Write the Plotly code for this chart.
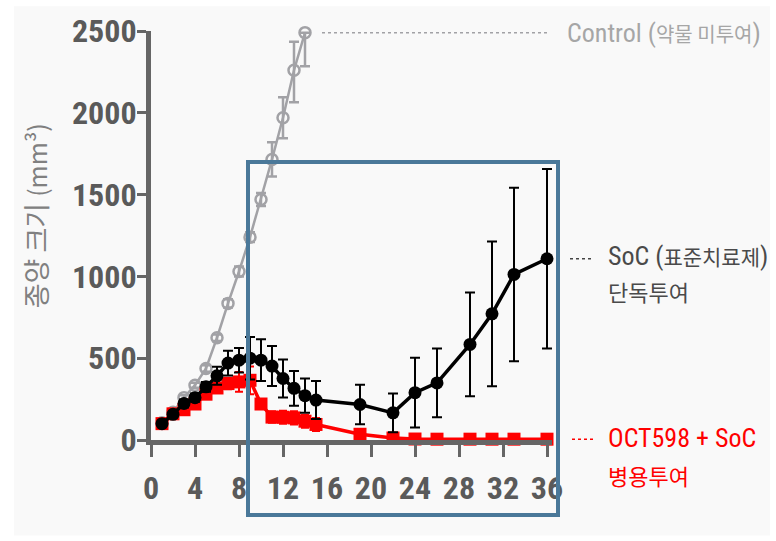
import plotly.graph_objects as go

# ---------------- data ----------------
control_days = [1, 2, 3, 4, 5, 6, 7, 8, 9, 10, 11, 12, 13, 14]
control_vals = [105, 170, 259, 335, 437, 625, 835, 1030, 1240, 1470, 1715, 1970, 2260, 2490]
control_err_up = [10, 10, 15, 15, 20, 20, 25, 30, 30, 40, 105, 125, 175, 0]
control_err_dn = [10, 10, 15, 15, 20, 20, 25, 30, 30, 40, 105, 125, 195, 205]

days = [1, 2, 3, 4, 5, 6, 7, 8, 9, 10, 11, 12, 13, 14, 15, 19, 22, 24, 26, 29, 31, 33, 36]
soc_vals = [100, 157, 223, 259, 325, 392, 470, 488, 500, 488, 452, 376, 316, 271, 244,
            217, 166, 289, 349, 584, 771, 1012, 1108]
soc_err = [15, 20, 25, 25, 30, 55, 75, 75, 130, 128, 122, 116, 106, 105, 116,
           120, 118, 213, 210, 317, 443, 530, 548]
combo_vals = [100, 160, 185, 220, 280, 318, 345, 355, 365, 220, 140, 139, 135, 115, 95,
              35, 12, 6, 5, 5, 5, 5, 5]
combo_err = [15, 15, 20, 20, 25, 30, 35, 60, 85, 30, 35, 40, 40, 40, 40,
             15, 10, 5, 5, 5, 5, 5, 5]

x_ticks = [0, 4, 8, 12, 16, 20, 24, 28, 32, 36]
y_ticks = [0, 500, 1000, 1500, 2000, 2500]

# ---------------- style ----------------
GRAY = "#a2a2a6"
BLACK = "#000000"
RED = "#ff0000"
AXIS = "#666666"
TXT_DARK = "#4a4a4a"
BOX = "#4a7899"
NARROW = "Roboto Condensed, Liberation Sans Narrow, Arial Narrow, Liberation Sans, Noto Sans CJK KR"


def mix(latin_a, korean, latin_b="", ls=26, ks=20):
    s = f'<span style="font-size:{ls}px">{latin_a}</span>'
    s += f'<span style="font-size:{ks}px">{korean}</span>'
    if latin_b:
        s += f'<span style="font-size:{ls}px">{latin_b}</span>'
    return s


label_control = mix("Control (", "약물 미투여", ")", 26, 20)
label_soc = [mix("SoC (", "표준치료제", ")", 26, 21), "단독투여"]
label_combo = ["OCT598 + SoC", "병용투여"]
y_title = '<span style="font-size:27px">종양 크기 </span><span style="font-size:25px">(mm³)</span>'

L, R, T, B = 151, 224, 25, 101
W, H = 776, 541
PW = W - L - R
PH = H - T - B
XMAX = PW / 11.0
YMAX = 2500


def px_x(p):  # pixel -> paper
    return (p - L) / PW


def px_y(p):
    return (T + PH - p) / PH


fig = go.Figure()

# control
fig.add_trace(go.Scatter(
    x=control_days, y=control_vals, mode="lines+markers",
    line=dict(color=GRAY, width=2.5),
    marker=dict(symbol="circle-open", size=11, color=GRAY, line=dict(width=2.5, color=GRAY)),
    error_y=dict(type="data", array=control_err_up, arrayminus=control_err_dn,
                 color=GRAY, thickness=2.5, width=5),
    cliponaxis=False, showlegend=False))

# combo
fig.add_trace(go.Scatter(
    x=days, y=combo_vals, mode="lines+markers",
    line=dict(color=RED, width=3.5),
    marker=dict(symbol="square", size=13, color=RED),
    error_y=dict(type="data", array=combo_err, color=RED, thickness=2, width=4),
    cliponaxis=False, showlegend=False))

# SoC
fig.add_trace(go.Scatter(
    x=days, y=soc_vals, mode="lines+markers",
    line=dict(color=BLACK, width=3.5),
    marker=dict(symbol="circle", size=13, color=BLACK),
    error_y=dict(type="data", array=soc_err, color=BLACK, thickness=2, width=5),
    cliponaxis=False, showlegend=False))

# label dots
dot_x = [(555 - L) / 11.0, (596 - L) / 11.0, (598 - L) / 11.0]
dot_y = [control_vals[-1], soc_vals[-1], combo_vals[-1]]
fig.add_trace(go.Scatter(
    x=dot_x, y=dot_y, mode="markers",
    marker=dict(symbol="circle", size=10, color=[GRAY, "#444444", RED]),
    cliponaxis=False, showlegend=False, hoverinfo="skip"))

shapes = []
# light background panel
shapes.append(dict(type="rect", xref="paper", yref="paper",
                   x0=px_x(14), x1=px_x(770), y0=px_y(537), y1=px_y(0),
                   fillcolor="#f9f9f9", line=dict(width=0), layer="below"))
# leader lines
for (xa, xb, val, col) in [(322, 550, control_vals[-1], GRAY),
                           (570, 592, soc_vals[-1], "#444444"),
                           (572, 594, combo_vals[-1], RED)]:
    yp = val / YMAX
    shapes.append(dict(type="line", xref="paper", yref="paper",
                       x0=px_x(xa), x1=px_x(xb), y0=yp, y1=yp,
                       line=dict(color=col, width=1.5, dash="dot")))
# highlight box
shapes.append(dict(type="rect", xref="paper", yref="paper",
                   x0=px_x(248), x1=px_x(558), y0=px_y(516), y1=px_y(158),
                   line=dict(color=BOX, width=4), fillcolor="rgba(0,0,0,0)", layer="above"))

annotations = [
    dict(xref="paper", yref="y", x=px_x(565), y=control_vals[-1], text=label_control,
         xanchor="left", yanchor="middle", showarrow=False,
         font=dict(family=NARROW, size=26, color="#a6a6a6")),
    dict(xref="paper", yref="y", x=px_x(606), y=soc_vals[-1], text=label_soc[0],
         xanchor="left", yanchor="middle", showarrow=False, yshift=3,
         font=dict(family=NARROW, size=26, color=TXT_DARK)),
    dict(xref="paper", yref="y", x=px_x(606), y=soc_vals[-1], text=label_soc[1],
         xanchor="left", yanchor="middle", showarrow=False, yshift=-35,
         font=dict(family=NARROW, size=22, color=TXT_DARK)),
    dict(xref="paper", yref="y", x=px_x(606), y=combo_vals[-1], text=label_combo[0],
         xanchor="left", yanchor="middle", showarrow=False, yshift=1,
         font=dict(family=NARROW, size=26, color=RED)),
    dict(xref="paper", yref="y", x=px_x(606), y=combo_vals[-1], text=label_combo[1],
         xanchor="left", yanchor="middle", showarrow=False, yshift=-38,
         font=dict(family=NARROW, size=22, color=RED)),
    dict(xref="paper", yref="paper", x=px_x(35), y=px_y(212), text=y_title,
         textangle=-90, xanchor="center", yanchor="middle", showarrow=False,
         font=dict(family="Noto Sans CJK KR, Liberation Sans", size=26, color="#808080")),
]

fig.update_layout(
    width=W, height=H,
    margin=dict(l=L, r=R, t=T, b=B, pad=0),
    paper_bgcolor="#ffffff", plot_bgcolor="rgba(0,0,0,0)",
    shapes=shapes, annotations=annotations,
    showlegend=False,
    xaxis=dict(range=[0, XMAX], tickvals=x_ticks, ticktext=[str(v) for v in x_ticks],
               showgrid=False, zeroline=False, showline=True, linecolor=AXIS, linewidth=5,
               ticks="outside", ticklen=12, tickwidth=3, tickcolor=AXIS,
               ticklabelstandoff=4,
               tickfont=dict(family=NARROW, size=32, color="#5a5a5a", weight="bold")),
    yaxis=dict(range=[0, YMAX], tickvals=y_ticks, ticktext=[str(v) for v in y_ticks],
               showgrid=False, zeroline=False, showline=True, linecolor=AXIS, linewidth=5,
               ticks="outside", ticklen=9, tickwidth=3, tickcolor=AXIS,
               ticklabelstandoff=-6,
               tickfont=dict(family=NARROW, size=32, color="#5a5a5a", weight="bold")),
)

fig.write_html("out.html")
